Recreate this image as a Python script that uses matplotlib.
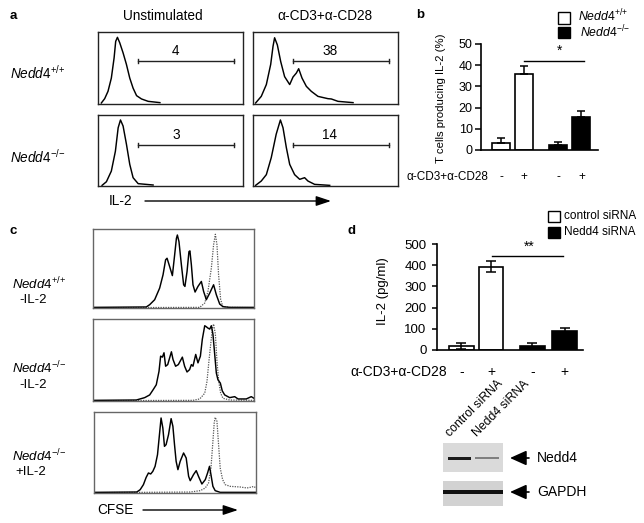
import matplotlib
matplotlib.use("Agg")
from matplotlib import pyplot as plt
from matplotlib.patches import Rectangle
from matplotlib.transforms import blended_transform_factory

plt.rcParams['font.family'] = 'Liberation Sans'
plt.rcParams['mathtext.fontset'] = 'custom'
plt.rcParams['mathtext.rm'] = 'Liberation Sans'
plt.rcParams['mathtext.it'] = 'Liberation Sans:italic'

W, H = 644, 523

## Panel a - IL-2 flow histograms (x = channel %, y = % of max)
a_wt_unstim_x = [2.3, 4.6, 6.9, 9.2, 11.1, 12.2, 13.4, 15, 17.3, 19.6, 21.9, 24.2, 26.6, 30, 34.6, 42.7]
a_wt_unstim_y = [1.4, 7.4, 17.6, 36, 64, 87, 92.6, 85, 71, 55, 36, 22, 11.6, 7, 3.7, 1.9]
a_wt_stim_x = [1.8, 5.7, 9.2, 12.2, 13.8, 14.9, 16.8, 19.1, 21.8, 25.3, 27.6, 29.9, 31.5, 33.8, 36.8,
               40.2, 44.8, 51.7, 54, 58.6, 69]
a_wt_stim_y = [1.4, 10.6, 27, 55, 80, 92, 82, 59, 38, 27, 37.5, 43, 49, 36, 24.5,
               17.6, 10.6, 7.4, 7, 3.7, 1.9]
a_ko_unstim_x = [2.8, 5.8, 9.2, 12, 13.9, 15.5, 17.3, 19.6, 21.9, 24.2, 27.7, 38]
a_ko_unstim_y = [0.9, 6, 21, 49, 82, 93, 84.5, 59, 30.5, 11.7, 3.3, 1.4]
a_ko_stim_x = [1.8, 5.7, 9.2, 12.6, 16, 18.9, 20.7, 23, 25.3, 28.7, 32.2, 35.6, 37.9, 42.5, 52.9]
a_ko_stim_y = [0.9, 7, 16, 40, 73, 93, 82, 54, 30.5, 16, 9.4, 11.7, 7, 2.3, 0.9]
a_gate_values = ['4', '38', '3', '14']

## Panel b
b_stim = ['-', '+', '-', '+']
b_values = [3.5, 36, 2.5, 15.5]
b_errors = [2.3, 3.8, 1.3, 2.8]
b_sig_level = 42

## Panel c - CFSE dilution (solid = stimulated, dotted = undivided control)
c1_x = [0, 33.1, 35.2, 38.3, 41.4, 43.5, 45.1, 46, 47.6, 49.3, 50.7, 51.8, 52.4, 53.4, 54.9, 56.3, 57.1,
        58.4, 59.6, 60.2, 61.1, 62.1, 63.4, 65.2, 67.3, 68.7, 70.4, 72.5, 74.9, 76.6, 78.7, 80.7, 84.9, 100]
c1_y = [0.8, 1.3, 4.2, 10.5, 25.2, 42, 61, 63, 52.5, 41, 67, 88, 92.4, 84, 54.6, 29.4, 27.3,
        46, 71.4, 72.3, 54.6, 29.4, 20.2, 27.3, 33.6, 21, 10.5, 18.9, 29.4, 16.8, 5, 1.7, 0.8, 0.8]
c1_ctrl_x = [0, 66.3, 69.4, 71.4, 73.5, 74.9, 76, 77, 78, 79.3, 80.7, 84.9, 100]
c1_ctrl_y = [0.4, 0.8, 6.3, 21, 50.4, 80, 93.3, 80, 42, 10.5, 1.7, 0.8, 0.4]

c2_x = [0, 26.9, 32.1, 35.2, 37.3, 39.3, 41, 42, 43.1, 44.1, 45.1, 46.4, 48.7, 49.7, 51.3, 53, 55.5,
        56.9, 58.4, 60, 61.1, 62.1, 63.8, 65.2, 66.7, 67.9, 69.4, 70.4, 71.4, 72.5, 73.5, 74.5, 75.6,
        76.6, 77.6, 79.1, 80.3, 81.8, 84.9, 88, 90.1, 95.2, 98.3, 100]
c2_y = [0.8, 1.2, 4.1, 7.4, 13.6, 19.8, 36.2, 54.7, 53.5, 58.8, 42.4, 44.4, 60, 50.6, 42.4, 44.4, 53.5,
        42.4, 35.4, 38.3, 44.4, 42.4, 56.8, 46.5, 54.7, 75.3, 91.8, 90.5, 88.9, 87.7, 91.8, 81.5, 56.8,
        34.2, 25.9, 21.8, 12.3, 7.4, 4.1, 5.3, 2.5, 2.5, 5.3, 3.3]
c2_ctrl_x = [0, 62.1, 66.3, 69.4, 70.8, 72, 73.1, 74.1, 74.9, 76, 77, 78.1, 79.3, 80.7, 84.9, 100]
c2_ctrl_y = [0.4, 0.8, 2.5, 9.5, 23.9, 48.6, 69.1, 87.7, 93.8, 81.5, 48.6, 23.9, 9.5, 3.3, 1.2, 0.8]

c3_x = [0, 26.4, 28.5, 30.5, 32.2, 33.6, 35, 36.3, 37.7, 39.2, 40.4, 41.4, 42.5, 43.5, 44.5, 46, 47.6,
        48.7, 49.7, 50.7, 51.8, 53.2, 55.3, 56.9, 58.4, 59.4, 61.4, 63.1, 64.5, 66.6, 68.7, 70.1, 71.3,
        72.2, 73.4, 74.8, 77.9, 100]
c3_y = [0.8, 1.2, 4.1, 10.3, 19.3, 24.7, 23.5, 26.7, 32.9, 47.3, 72, 92.6, 80.2, 57.6, 59.7, 72, 91.8,
        82.3, 59.7, 39.1, 28.8, 39.1, 49.4, 43.2, 20.6, 15.2, 22.6, 27.6, 20.6, 11.1, 16.5, 24.7, 32.9,
        22.6, 8.2, 2.9, 0.8, 0.8]
c3_ctrl_x = [0, 59.4, 65.6, 68.7, 70.7, 72.2, 73.4, 74.2, 74.8, 75.9, 76.9, 77.9, 79.4, 81, 84.1,
             90.3, 94.4, 97.5, 98.6, 100]
c3_ctrl_y = [0.4, 1.2, 2.9, 6.2, 12.3, 30.9, 63.8, 86.4, 93.4, 88.5, 59.7, 30.9, 16.5, 10.3, 8.2,
             7.4, 6.2, 7.4, 8.2, 6.2]

## Panel d
d_stim = ['-', '+', '-', '+']
d_values = [20, 393, 20, 88]
d_errors = [13, 27, 12, 17]
d_sig_level = 444
blot_lanes = ['control siRNA', 'Nedd4 siRNA']
nedd4_band = [0.95, 0.45]
gapdh_band = [1.0, 1.0]

WT = r'$\mathit{Nedd4}^{{+}/{+}}$'
KO = r'$\mathit{Nedd4}^{{-}/{-}}$'

fig = plt.figure(figsize=(W / 100, H / 100), dpi=100)


def px_axes(x0, y0, x1, y1):
    # axes placed by pixel box (top-left origin)
    return fig.add_axes([x0 / W, 1 - y1 / H, (x1 - x0) / W, (y1 - y0) / H])


def hist_box(box, curves, frame='#222222'):
    ax = px_axes(*box)
    for xs, ys, dotted in curves:
        if dotted:
            ax.plot(xs, ys, color='#555555', lw=0.9, linestyle=(0, (1, 1)))
        else:
            ax.plot(xs, ys, color='black', lw=1.05)
    ax.set_xlim(0, 100)
    ax.set_ylim(0, 100)
    ax.set_xticks([])
    ax.set_yticks([])
    for s in ax.spines.values():
        s.set_color(frame)
        s.set_linewidth(1.0)
    return ax


#### Panel a ####
a_boxes = [(98, 32, 243, 104), (253, 32, 398, 104), (98, 115, 243, 186), (253, 115, 398, 186)]
a_curves = [(a_wt_unstim_x, a_wt_unstim_y), (a_wt_stim_x, a_wt_stim_y),
            (a_ko_unstim_x, a_ko_unstim_y), (a_ko_stim_x, a_ko_stim_y)]
for box, (xs, ys) in zip(a_boxes, a_curves):
    hist_box(box, [(xs, ys, False)])

#### Panel b ####
b_pos = [0, 1, 2.5, 3.5]
ax_b = px_axes(481, 44, 598, 150)
ax_b.bar(b_pos, b_values, width=0.78, color=['white', 'white', 'black', 'black'],
         edgecolor='black', linewidth=1.2, zorder=2)
ax_b.errorbar(b_pos, b_values, yerr=[[0] * 4, b_errors], fmt='none', ecolor='black',
              elinewidth=1.1, capsize=3, capthick=1.1, zorder=3)
ax_b.plot([b_pos[1], b_pos[3] + 0.1], [b_sig_level, b_sig_level], color='black', lw=1)
ax_b.text((b_pos[1] + b_pos[3]) / 2 + 0.3, b_sig_level + 1.5, '*', ha='center', va='bottom', fontsize=10)
ax_b.set_xlim(-0.87, 4.22)
ax_b.set_ylim(0, 50)
ax_b.set_yticks([0, 10, 20, 30, 40, 50])
ax_b.tick_params(axis='y', length=4, width=1.1, pad=2, labelsize=9)
ax_b.set_xticks([])
ax_b.spines['top'].set_visible(False)
ax_b.spines['right'].set_visible(False)
ax_b.spines['left'].set_bounds(0, 50)
ax_b.spines['left'].set_linewidth(1.2)
ax_b.spines['bottom'].set_linewidth(1.2)
trans_b = blended_transform_factory(ax_b.transData, ax_b.transAxes)
for p, s in zip(b_pos, b_stim):
    ax_b.text(p, (150 - 177) / 106, s, transform=trans_b, ha='center', va='center', fontsize=8.5)

#### Panel c ####
c_boxes = [(93, 229, 254, 308), (93, 319, 254, 401), (94, 412, 256, 493)]
c_data = [[(c1_ctrl_x, c1_ctrl_y, True), (c1_x, c1_y, False)],
          [(c2_ctrl_x, c2_ctrl_y, True), (c2_x, c2_y, False)],
          [(c3_ctrl_x, c3_ctrl_y, True), (c3_x, c3_y, False)]]
for box, curves in zip(c_boxes, c_data):
    hist_box(box, curves, frame='#666666')

#### Panel d ####
d_pos = [0, 1, 2.4, 3.5]
ax_d = px_axes(437, 244, 583, 350)
ax_d.bar(d_pos, d_values, width=0.83, color=['white', 'white', 'black', 'black'],
         edgecolor='black', linewidth=1.2, zorder=2)
ax_d.errorbar(d_pos, d_values, yerr=d_errors, fmt='none', ecolor='black',
              elinewidth=1.1, capsize=3.5, capthick=1.1, zorder=3)
ax_d.plot([d_pos[1] + 0.03, d_pos[3] - 0.06], [d_sig_level, d_sig_level], color='black', lw=1)
ax_d.text(2.3, d_sig_level + 10, '**', ha='center', va='bottom', fontsize=10)
ax_d.set_xlim(-0.83, 4.12)
ax_d.set_ylim(0, 500)
ax_d.set_yticks([0, 100, 200, 300, 400, 500])
ax_d.tick_params(axis='y', length=3.5, width=1.1, pad=4, labelsize=9.5)
ax_d.set_xticks([])
ax_d.spines['top'].set_visible(False)
ax_d.spines['right'].set_visible(False)
ax_d.spines['left'].set_bounds(0, 500)
ax_d.spines['left'].set_linewidth(1.2)
ax_d.spines['bottom'].set_linewidth(1.2)
trans_d = blended_transform_factory(ax_d.transData, ax_d.transAxes)
for p, s in zip(d_pos, d_stim):
    ax_d.text(p, (350 - 372) / 106, s, transform=trans_d, ha='center', va='center', fontsize=10)

#### Overlay for labels, arrows, legends and blot ####
ov = fig.add_axes([0, 0, 1, 1])
ov.set_xlim(0, W)
ov.set_ylim(H, 0)
ov.axis('off')
ov.patch.set_alpha(0)

# panel letters
for lab, x, y in [('a', 10, 16), ('b', 416, 15), ('c', 10, 231), ('d', 348, 231)]:
    ov.text(x, y, lab, fontsize=9.5, fontweight='bold', ha='left', va='center')

# panel a labels
ov.text(163, 16, 'Unstimulated', fontsize=9.8, ha='center', va='center')
ov.text(325, 16, 'α-CD3+α-CD28', fontsize=9.8, ha='center', va='center')
ov.text(10, 73, WT, fontsize=9.8, ha='left', va='center')
ov.text(10, 157, KO, fontsize=9.8, ha='left', va='center')
gate_rows = [(138, 234, 61, 176), (293, 389, 61, 330), (138, 234, 145, 176), (293, 389, 145, 330)]
for (gx0, gx1, gy, tx), val in zip(gate_rows, a_gate_values):
    ov.plot([gx0, gx1], [gy, gy], color='#222222', lw=1)
    ov.plot([gx0, gx0], [gy - 2, gy + 2], color='#222222', lw=1)
    ov.plot([gx1, gx1], [gy - 2, gy + 2], color='#222222', lw=1)
    ov.text(tx, gy - 10, val, fontsize=9.8, ha='center', va='center')
ov.text(109, 201, 'IL-2', fontsize=9.8, ha='left', va='center')
ov.annotate('', xy=(331, 201), xytext=(145, 201),
            arrowprops=dict(arrowstyle='-|>,head_length=0.9,head_width=0.3', color='black', lw=1,
                            shrinkA=0, shrinkB=0))

# panel b labels and legend
ov.text(441, 98, 'T cells producing IL-2 (%)', fontsize=8.2, rotation=90, ha='center', va='center')
ov.text(488, 177, 'α-CD3+α-CD28', fontsize=8.5, ha='right', va='center')
ov.add_patch(Rectangle((558, 12), 12, 12, facecolor='white', edgecolor='black', lw=1))
ov.add_patch(Rectangle((558, 27), 12, 11, facecolor='black', edgecolor='black', lw=1))
ov.text(578, 16, WT, fontsize=8.8, ha='left', va='center')
ov.text(580, 32, KO, fontsize=8.8, ha='left', va='center')

# panel c labels
for y1, y2, l1, l2, x2 in [(284, 300, WT, '-IL-2', 19),
                           (368, 385, KO, '-IL-2', 19),
                           (456, 472, KO, '+IL-2', 15)]:
    ov.text(12, y1, l1, fontsize=9.5, ha='left', va='center')
    ov.text(x2, y2, l2, fontsize=9.5, ha='left', va='center')
ov.text(97, 510, 'CFSE', fontsize=9.8, ha='left', va='center')
ov.annotate('', xy=(238, 510), xytext=(143, 510),
            arrowprops=dict(arrowstyle='-|>,head_length=0.9,head_width=0.3', color='black', lw=1,
                            shrinkA=0, shrinkB=0))

# panel d labels and legend
ov.text(383, 291, 'IL-2 (pg/ml)', fontsize=9.5, rotation=90, ha='center', va='center')
ov.text(447, 372, 'α-CD3+α-CD28', fontsize=10, ha='right', va='center')
ov.add_patch(Rectangle((548, 211), 12, 11, facecolor='white', edgecolor='black', lw=1))
ov.add_patch(Rectangle((548, 227), 12, 11, facecolor='black', edgecolor='black', lw=1))
ov.text(564, 216, 'control siRNA', fontsize=8.5, ha='left', va='center')
ov.text(564, 232, 'Nedd4 siRNA', fontsize=8.5, ha='left', va='center')

# western blot
lane_x = [(448, 471), (475, 499)]
for lab, (lx0, lx1) in zip(blot_lanes, lane_x):
    ov.text(lx0 + 4, 439, lab, fontsize=8.8, rotation=45, rotation_mode='anchor',
            ha='left', va='bottom')
ov.add_patch(Rectangle((443, 443), 60, 29, facecolor='#dadada', edgecolor='none'))
ov.add_patch(Rectangle((443, 481), 60, 25, facecolor='#d2d2d2', edgecolor='none'))
for (lx0, lx1), v in zip(lane_x, nedd4_band):
    ov.add_patch(Rectangle((lx0, 457), lx1 - lx0, 1 + 2 * v, facecolor='#111111',
                           edgecolor='none', alpha=v))
gapdh_x = [(443, 473), (473, 503)]
for (lx0, lx1), v in zip(gapdh_x, gapdh_band):
    ov.add_patch(Rectangle((lx0, 490), lx1 - lx0, 1 + 2.5 * v, facecolor='#111111',
                           edgecolor='none', alpha=v))
for y, lab in [(458, 'Nedd4'), (492, 'GAPDH')]:
    ov.annotate('', xy=(510, y), xytext=(529, y),
                arrowprops=dict(arrowstyle='-|>,head_length=1.0,head_width=0.45', color='black',
                                lw=1.2, shrinkA=0, shrinkB=0))
    ov.text(537, y, lab, fontsize=10, ha='left', va='center')

fig.savefig('out.png', dpi=100)
